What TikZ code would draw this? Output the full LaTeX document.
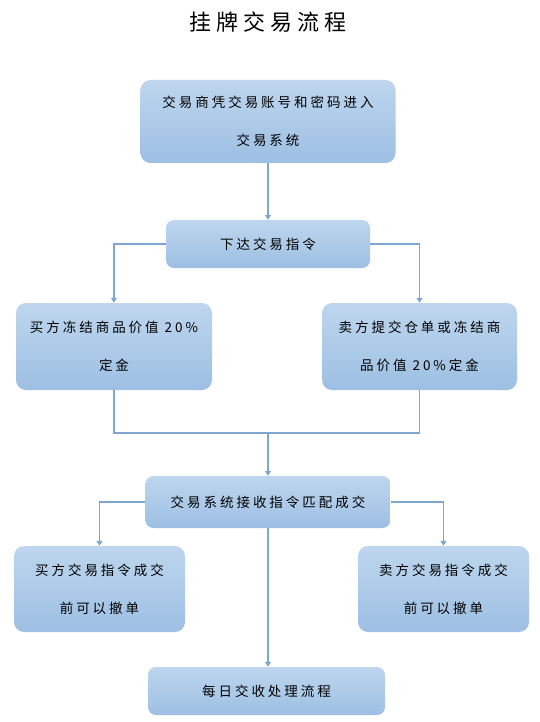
\documentclass[tikz,border=0pt]{standalone}
\usepackage{fontspec}
\newfontfamily\cjk[LetterSpace=22]{Noto Sans CJK SC}
\definecolor{BoxTop}{RGB}{190, 214, 238}
\definecolor{BoxBottom}{RGB}{157, 191, 227}
\definecolor{LinkBlue}{RGB}{126, 166, 206}
\usepackage{tikz}
\usetikzlibrary{arrows.meta, positioning}
\begin{document}
\begin{tikzpicture}[x=1pt, y=-1pt,
    every node/.style={font=\cjk\fontsize{13.5}{38}\selectfont, align=center},
    flowbox/.style={rectangle, rounded corners=10pt, top color=BoxTop, bottom color=BoxBottom, inner sep=0pt},
    link/.style={draw=LinkBlue, line width=1.3pt},
    linkarrow/.style={link, -{Triangle[length=5pt, width=6pt]}}
]
\useasboundingbox (0,0) rectangle (539,722);
% Title
\node[font=\cjk\fontsize{22}{24}\selectfont] (title) at (268,22) {挂牌交易流程};
% Boxes
\node[flowbox, minimum width=255pt, minimum height=83pt] (login) at (268,121.5) {交易商凭交易账号和密码进入\\交易系统};
\node[flowbox, minimum width=204pt, minimum height=48pt, rounded corners=8pt] (order) at (268,244) {下达交易指令};
\node[flowbox, minimum width=196pt, minimum height=87pt] (buyfreeze) at (114,346.5) {买方冻结商品价值 20\%\\定金};
\node[flowbox, minimum width=195pt, minimum height=87pt] (sellfreeze) at (419.5,346.5) {卖方提交仓单或冻结商\\品价值 20\%定金};
\node[flowbox, minimum width=245pt, minimum height=52pt, rounded corners=8pt] (match) at (268,502) {交易系统接收指令匹配成交};
\node[flowbox, minimum width=171pt, minimum height=86pt] (buycancel) at (99.5,589) {买方交易指令成交\\前可以撤单};
\node[flowbox, minimum width=171pt, minimum height=86pt] (sellcancel) at (443.5,589) {卖方交易指令成交\\前可以撤单};
\node[flowbox, minimum width=237pt, minimum height=48pt, rounded corners=8pt] (settle) at (266.5,691) {每日交收处理流程};
% Connectors
\coordinate (join) at (268,433);
\draw[linkarrow] (login) -- (order);
\draw[linkarrow] (order.west) -| (buyfreeze.north);
\draw[linkarrow] (order.east) -| (sellfreeze.north);
\draw[link] (buyfreeze.south) |- (join) -| (sellfreeze.south);
\draw[linkarrow] (join) -- (match);
\draw[linkarrow] (match.west) -| (buycancel.north);
\draw[linkarrow] (match.east) -| (sellcancel.north);
\draw[linkarrow] (match.south -| join) -- (settle.north -| join);
\end{tikzpicture}
\end{document}
